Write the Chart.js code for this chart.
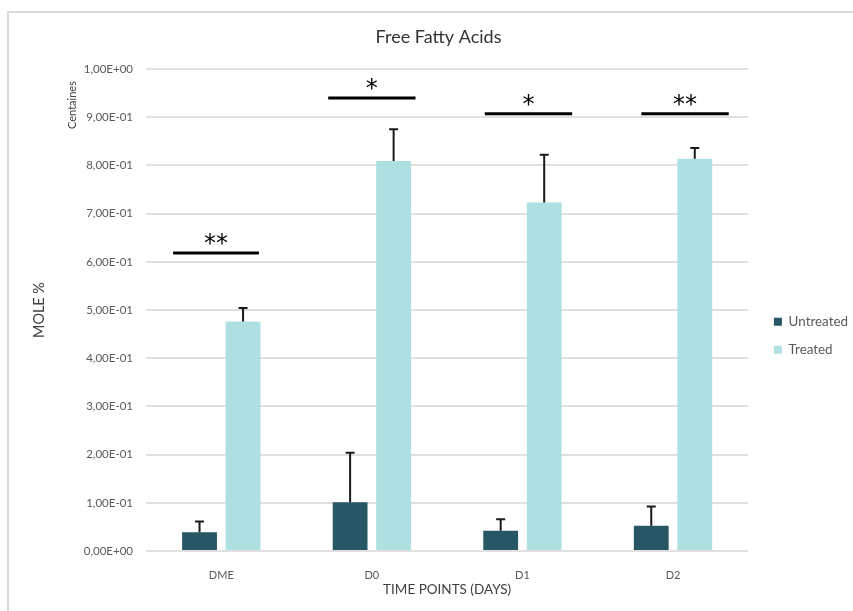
<!DOCTYPE html>
<html>
<head>
<meta charset="utf-8">
<script src="https://cdn.jsdelivr.net/npm/chart.js@4"></script>
<style>
  html, body { margin: 0; padding: 0; background: #fff; }
  #wrap { position: relative; width: 853px; height: 611px; }
  #frame { position: absolute; left: 7px; top: 11px; right: 0; bottom: 0;
           border-top: 2px solid #d9d9d9; border-left: 2px solid #d9d9d9; }
  canvas { position: absolute; left: 0; top: 0; }
</style>
</head>
<body>
<div id="wrap">
  <div id="frame"></div>
  <canvas id="fattyChart" width="853" height="611"></canvas>
</div>
<script>
const categories = ['DME', 'D0', 'D1', 'D2'];

const untreated = [0.039, 0.101, 0.042, 0.0525];
const untreatedErr = [0.022, 0.103, 0.024, 0.040];

const treated = [0.476, 0.809, 0.723, 0.814];
const treatedErr = [0.028, 0.066, 0.099, 0.022];

const yTickLabels = ['0,00E+00', '1,00E-01', '2,00E-01', '3,00E-01', '4,00E-01', '5,00E-01',
                     '6,00E-01', '7,00E-01', '8,00E-01', '9,00E-01', '1,00E+00'];

// significance bars: label, height (data units), start/end as offsets from the category
const sigLabels = ['**', '*', '*', '**'];
const sigLevels = [0.618, 0.940, 0.907, 0.907];
const sigFrom = [-0.32, -0.29, -0.25, -0.21];
const sigTo = [0.25, 0.29, 0.33, 0.37];

const errorBars = {
  id: 'errorBars',
  afterDatasetsDraw(chart) {
    const ctx = chart.ctx;
    const y = chart.scales.y;
    ctx.save();
    ctx.strokeStyle = '#1a1a1a';
    ctx.lineWidth = 2;
    chart.data.datasets.forEach((ds, di) => {
      const meta = chart.getDatasetMeta(di);
      meta.data.forEach((bar, i) => {
        const top = y.getPixelForValue(ds.data[i] + ds.errors[i]);
        ctx.beginPath();
        ctx.moveTo(bar.x, bar.y);
        ctx.lineTo(bar.x, top);
        ctx.moveTo(bar.x - 4.5, top);
        ctx.lineTo(bar.x + 4.5, top);
        ctx.stroke();
      });
    });
    ctx.restore();
  }
};

const extras = {
  id: 'extras',
  afterDraw(chart) {
    const ctx = chart.ctx;
    const x = chart.scales.x;
    const y = chart.scales.y;
    ctx.save();
    // significance lines and stars
    ctx.strokeStyle = '#000';
    ctx.fillStyle = '#000';
    ctx.lineWidth = 3;
    ctx.font = '24px "DejaVu Sans"';
    ctx.textAlign = 'center';
    ctx.textBaseline = 'alphabetic';
    sigLabels.forEach((lab, i) => {
      const x0 = x.getPixelForValue(i + sigFrom[i]);
      const x1 = x.getPixelForValue(i + sigTo[i]);
      const yy = y.getPixelForValue(sigLevels[i]);
      ctx.beginPath();
      ctx.moveTo(x0, yy);
      ctx.lineTo(x1, yy);
      ctx.stroke();
      ctx.fillText(lab, (x0 + x1) / 2, yy - 2);
    });
    // secondary unit label
    ctx.translate(72, 105);
    ctx.rotate(-Math.PI / 2);
    ctx.font = '11px Lato';
    ctx.fillStyle = '#404040';
    ctx.textBaseline = 'middle';
    ctx.fillText('Centaines', 0, 0);
    ctx.restore();
  }
};

new Chart(document.getElementById('fattyChart'), {
  type: 'bar',
  data: {
    labels: categories,
    datasets: [
      { label: 'Untreated', data: untreated, errors: untreatedErr, backgroundColor: '#275664' },
      { label: 'Treated', data: treated, errors: treatedErr, backgroundColor: '#aee0e1' }
    ]
  },
  options: {
    responsive: false,
    animation: false,
    layout: { padding: { left: 19, top: 0, right: -5, bottom: 0 } },
    datasets: { bar: { categoryPercentage: 0.578, barPercentage: 0.8 } },
    plugins: {
      title: {
        display: true,
        text: 'Free Fatty Acids',
        color: '#333',
        font: { family: 'Lato', size: 18, weight: 'normal' },
        padding: { top: 26, bottom: 21.4 }
      },
      legend: {
        position: 'right',
        title: { display: true, text: '', font: { size: 12 }, padding: { top: 46.2, bottom: 0 } },
        labels: {
          boxWidth: 8, boxHeight: 8, padding: 14.6,
          color: '#595959',
          font: { family: 'Lato', size: 13.4 }
        }
      },
      tooltip: { enabled: false }
    },
    scales: {
      x: {
        grid: { display: false },
        border: { display: false },
        ticks: { color: '#595959', font: { family: 'Lato', size: 11 }, padding: 10 },
        title: {
          display: true, text: 'TIME POINTS (DAYS)', color: '#404040',
          font: { family: 'Lato', size: 13.5 }, padding: { top: 0, bottom: 12.9 }
        },
        afterFit: s => { s.height = 60; }
      },
      y: {
        min: 0, max: 1,
        ticks: {
          stepSize: 0.1, color: '#595959', padding: 13,
          font: { family: 'Lato', size: 11.5 },
          callback: (v, i) => yTickLabels[i]
        },
        grid: { color: '#e0e0e0', lineWidth: 2, drawTicks: false },
        border: { display: false },
        title: {
          display: true, text: 'MOLE %', color: '#404040',
          font: { family: 'Lato', size: 14.4 }, padding: { top: 11.4, bottom: 0 }
        },
        afterFit: s => { s.width = 127; }
      },
      gap: {
        position: 'right',
        display: true,
        grid: { display: false },
        border: { display: false },
        ticks: { display: false },
        afterFit: s => { s.width = 11; }
      }
    }
  },
  plugins: [errorBars, extras]
});
</script>
</body>
</html>
